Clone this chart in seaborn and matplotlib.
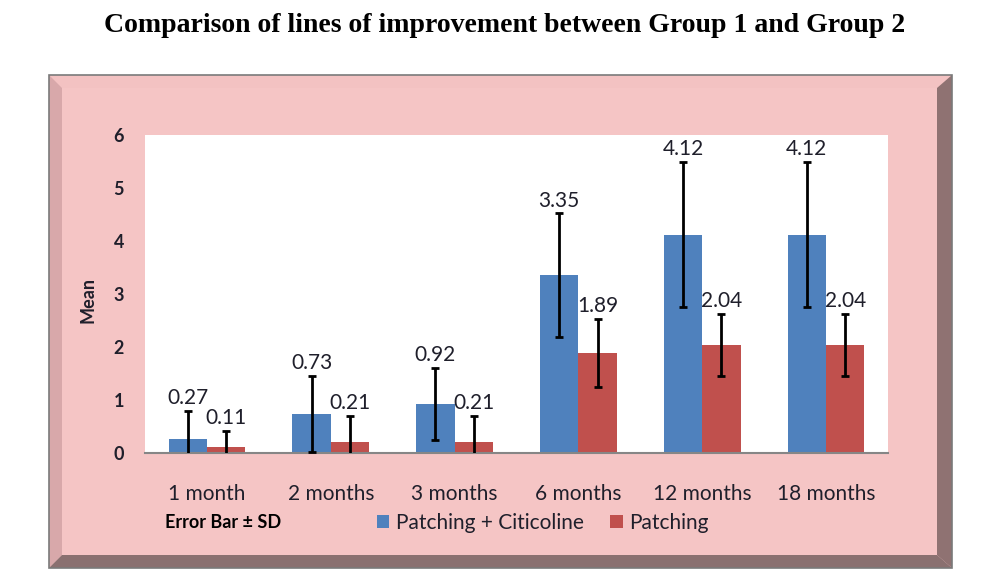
import numpy as np
import pandas as pd
import seaborn as sns
import matplotlib.pyplot as plt
from matplotlib.patches import Polygon, Patch

# ---- data ----
months = ["1 month", "2 months", "3 months", "6 months", "12 months", "18 months"]
groups = ["Patching + Citicoline", "Patching"]
mean_citicoline = [0.27, 0.73, 0.92, 3.35, 4.12, 4.12]
mean_patching = [0.11, 0.21, 0.21, 1.89, 2.04, 2.04]
sd_citicoline = [0.52, 0.72, 0.68, 1.17, 1.37, 1.37]
sd_patching = [0.31, 0.49, 0.49, 0.64, 0.58, 0.58]
yticks = [0, 1, 2, 3, 4, 5, 6]

blue = "#4f81bd"
red = "#c0504d"
txt = "#1f1f2b"

df = pd.DataFrame({
    "month": months * 2,
    "mean": mean_citicoline + mean_patching,
    "group": [groups[0]] * 6 + [groups[1]] * 6,
})

sns.set_style("white")
plt.rcParams["font.family"] = ["Lato", "DejaVu Sans"]

W, H = 1000, 588
fig = plt.figure(figsize=(10, 5.88), dpi=100)


def px(x, y):
    return (x / W, 1 - y / H)


# beveled pink frame (drawn under the axes)
L, R, T, B = 49, 952, 75, 568
l, r, t, b = 62, 937, 88, 555
frame = [
    ([(L, T), (R, T), (R, B), (L, B)], "#f5c5c5"),
    ([(L, T), (R, T), (r, t), (l, t)], "#f3c2c2"),
    ([(L, T), (l, t), (l, b), (L, B)], "#d8a8aa"),
    ([(R, T), (R, B), (r, b), (r, t)], "#8f7272"),
    ([(L, B), (R, B), (r, b), (l, b)], "#8a7070"),
]
for pts, col in frame:
    fig.patches.append(Polygon([px(*p) for p in pts], closed=True, transform=fig.transFigure,
                               facecolor=col, edgecolor="none", zorder=-3))
fig.patches.append(Polygon([px(*p) for p in [(L, T), (R, T), (R, B), (L, B)]], closed=True,
                           transform=fig.transFigure, facecolor="none", edgecolor="#7a7a7a",
                           linewidth=1.2, zorder=-2))

# plot area
x0, x1 = px(145, 0)[0], px(888, 0)[0]
ybot, ytop = px(0, 453)[1], px(0, 135)[1]
ax = fig.add_axes([x0, ybot, x1 - x0, ytop - ybot])
ax.set_zorder(5)
ax.set_facecolor("white")

sns.barplot(data=df, x="month", y="mean", hue="group", palette=[blue, red],
            saturation=1, width=0.62, errorbar=None, linewidth=0, legend=False, ax=ax)

for cont, means, sds in zip(ax.containers, [mean_citicoline, mean_patching],
                            [sd_citicoline, sd_patching]):
    xs = [p.get_x() + p.get_width() / 2 for p in cont]
    ax.errorbar(xs, means, yerr=sds, fmt="none", ecolor="black", elinewidth=2,
                capsize=3, capthick=2, zorder=3)
    for xv, m, s in zip(xs, means, sds):
        ax.annotate(f"{m:.2f}", (xv, m + s), xytext=(0, 2), textcoords="offset points",
                    ha="center", va="bottom", fontsize=15, color=txt, zorder=4,
                    annotation_clip=False)

ax.set_ylim(0, 6)
ax.set_yticks(yticks)
ax.set_xlim(-0.5, 5.5)
for s in ["top", "right", "left"]:
    ax.spines[s].set_visible(False)
ax.spines["bottom"].set_color("#868686")
ax.spines["bottom"].set_linewidth(1.5)
ax.tick_params(axis="both", length=0)
ax.tick_params(axis="x", pad=22, labelsize=15, labelcolor=txt)
ax.tick_params(axis="y", pad=15, labelsize=13, labelcolor=txt)
for lab in ax.get_yticklabels():
    lab.set_fontweight("bold")
ax.set_xlabel("")
ax.set_ylabel("")

fig.text(px(88, 0)[0], px(0, 300)[1], "Mean", rotation=90, ha="center", va="center",
         fontsize=13, fontweight="bold", color=txt)

fig.text(px(505, 0)[0], px(0, 25)[1], "Comparison of lines of improvement between Group 1 and Group 2",
         ha="center", va="center", fontsize=20, fontweight="bold", color="black",
         family=["Liberation Serif", "DejaVu Serif"])

fig.text(px(165, 0)[0], px(0, 523)[1], "Error Bar \u00b1 SD", ha="left", va="center",
         fontsize=13, fontweight="bold", color="black")

handles = [Patch(facecolor=blue, edgecolor="none"), Patch(facecolor=red, edgecolor="none")]
fig.legend(handles, groups, loc="center left", bbox_to_anchor=px(358, 523), ncol=2,
           frameon=False, fontsize=15, handlelength=0.6, handleheight=0.6,
           handletextpad=0.3, columnspacing=1.3, labelcolor=txt)

fig.savefig("out.png", dpi=100, facecolor="white")
